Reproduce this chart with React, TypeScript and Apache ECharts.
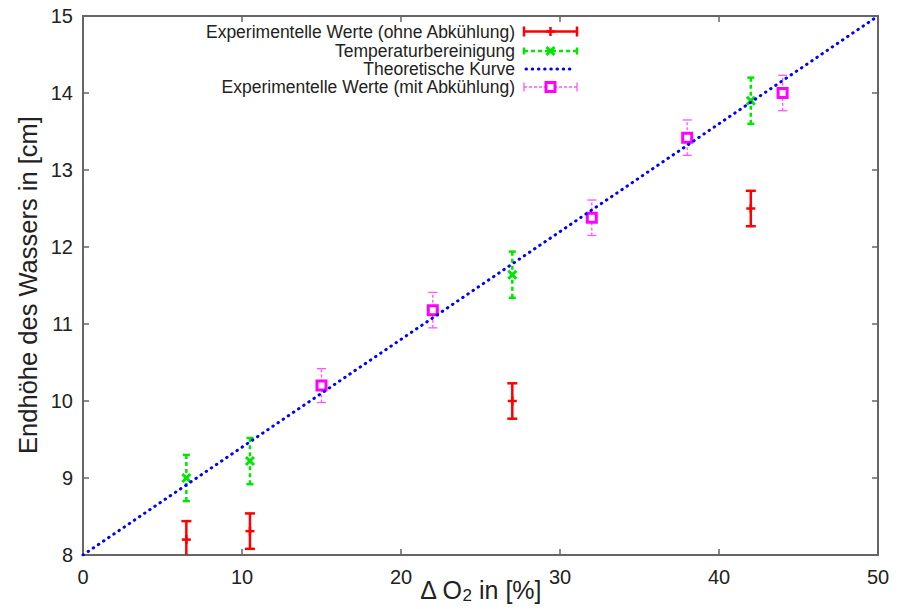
import React, { useEffect, useRef } from "react";
import * as echarts from "echarts";

// ---- data ----
const xTickValues = [0, 10, 20, 30, 40, 50];
const yTickValues = [8, 9, 10, 11, 12, 13, 14, 15];

const ohneX = [6.5, 10.5, 27, 42];
const ohneY = [8.2, 8.31, 10.0, 12.5];
const ohneErr = [0.24, 0.23, 0.23, 0.23];

const tempX = [6.5, 10.5, 27, 42];
const tempY = [9.0, 9.22, 11.64, 13.9];
const tempErr = [0.3, 0.3, 0.3, 0.3];

const mitX = [15, 22, 32, 38, 44];
const mitY = [10.2, 11.18, 12.38, 13.42, 14.0];
const mitErr = [0.22, 0.23, 0.23, 0.23, 0.23];

const theoryX = [0, 50];
const theoryY = [8, 15];

const legendNames = [
  "Experimentelle Werte (ohne Abkühlung)",
  "Temperaturbereinigung",
  "Theoretische Kurve",
  "Experimentelle Werte (mit Abkühlung)",
];

const yAxisTitle = "Endhöhe des Wassers in [cm]";

const FONT = "'Liberation Sans', Arial, Helvetica, sans-serif";
const TEXT = "#222";
const FRAME = "#666";

type Kind = "ohne" | "temp" | "mit";

const STY: Record<Kind, any> = {
  ohne: { color: "#ff0000", width: 2.5, dash: null, cap: 10 },
  temp: { color: "#00e600", width: 2.5, dash: [4, 3], cap: 7 },
  mit: { color: "#ff55ff", width: 1.3, dash: [3, 2], cap: 9 },
};

function markerEls(kind: Kind, cx: number, cy: number) {
  const s = STY[kind];
  if (kind === "ohne") {
    return [
      { type: "line", shape: { x1: cx - 4.5, y1: cy, x2: cx + 4.5, y2: cy }, style: { stroke: s.color, lineWidth: 2.5 } },
      { type: "line", shape: { x1: cx, y1: cy - 4.5, x2: cx, y2: cy + 4.5 }, style: { stroke: s.color, lineWidth: 2.5 } },
    ];
  }
  if (kind === "temp") {
    return [
      { type: "line", shape: { x1: cx - 4, y1: cy - 4, x2: cx + 4, y2: cy + 4 }, style: { stroke: s.color, lineWidth: 3 } },
      { type: "line", shape: { x1: cx - 4, y1: cy + 4, x2: cx + 4, y2: cy - 4 }, style: { stroke: s.color, lineWidth: 3 } },
    ];
  }
  return [
    { type: "rect", shape: { x: cx - 4.5, y: cy - 4.5, width: 9, height: 9 }, style: { stroke: "#ff00ff", lineWidth: 3, fill: "#ffffff" } },
  ];
}

function renderErr(kind: Kind) {
  return (params: any, api: any) => {
    const x = api.value(0);
    const y = api.value(1);
    const e = api.value(2);
    const c = api.coord([x, y]);
    const lo = api.coord([x, y - e]);
    const hi = api.coord([x, y + e]);
    const s = STY[kind];
    const st = { stroke: s.color, lineWidth: s.width, lineDash: s.dash };
    const hc = s.cap / 2;
    return {
      type: "group",
      children: [
        { type: "line", shape: { x1: c[0], y1: lo[1], x2: c[0], y2: hi[1] }, style: st },
        { type: "line", shape: { x1: c[0] - hc, y1: lo[1], x2: c[0] + hc, y2: lo[1] }, style: { stroke: s.color, lineWidth: s.width } },
        { type: "line", shape: { x1: c[0] - hc, y1: hi[1], x2: c[0] + hc, y2: hi[1] }, style: { stroke: s.color, lineWidth: s.width } },
        ...markerEls(kind, c[0], c[1]),
      ],
    };
  };
}

function legendSample(kind: Kind | "theory", y: number) {
  const x1 = 524;
  const x2 = 577;
  const cx = (x1 + x2) / 2;
  if (kind === "theory") {
    return [
      {
        type: "line",
        shape: { x1: x1 + 2, y1: y, x2: x2 - 4, y2: y },
        style: { stroke: "#0000ff", lineWidth: 3, lineDash: [0.5, 5.7], lineCap: "round" },
      },
    ];
  }
  const s = STY[kind];
  const hc = s.cap / 2;
  return [
    { type: "line", shape: { x1, y1: y, x2, y2: y }, style: { stroke: s.color, lineWidth: s.width, lineDash: s.dash } },
    { type: "line", shape: { x1, y1: y - hc, x2: x1, y2: y + hc }, style: { stroke: s.color, lineWidth: s.width } },
    { type: "line", shape: { x1: x2, y1: y - hc, x2, y2: y + hc }, style: { stroke: s.color, lineWidth: s.width } },
    ...markerEls(kind, cx, y),
  ];
}

export default function App() {
  const ref = useRef<HTMLDivElement>(null);

  useEffect(() => {
    if (!ref.current) return;
    const chart = echarts.init(ref.current, null, { renderer: "svg" });

    const legendRows = [31.5, 51, 69, 87];
    const legendKinds: (Kind | "theory")[] = ["ohne", "temp", "theory", "mit"];
    const graphic: any[] = [];
    legendNames.forEach((name, i) => {
      graphic.push({
        type: "text",
        x: 515,
        y: legendRows[i],
        style: {
          text: name,
          fontSize: 17.5,
          lineHeight: 16,
          fontFamily: FONT,
          fill: TEXT,
          align: "right",
          verticalAlign: "middle",
        },
      });
      legendSample(legendKinds[i], legendRows[i]).forEach((el) => graphic.push(el));
    });
    graphic.push({
      type: "text",
      x: 28,
      y: 285,
      rotation: Math.PI / 2,
      style: {
        text: yAxisTitle,
        fontSize: 25.5,
        fontFamily: FONT,
        fill: TEXT,
        align: "center",
        verticalAlign: "middle",
      },
    });

    const baseX = {
      type: "value",
      min: 0,
      max: 50,
      interval: 10,
      splitLine: { show: false },
      axisLine: { show: true, onZero: false, lineStyle: { color: FRAME, width: 2 } },
      axisTick: { show: true, inside: true, length: 6, lineStyle: { color: FRAME, width: 1.5 } },
    };
    const baseY = {
      type: "value",
      min: 8,
      max: 15,
      interval: 1,
      splitLine: { show: false },
      axisLine: { show: true, onZero: false, lineStyle: { color: FRAME, width: 2 } },
      axisTick: { show: true, inside: true, length: 6, lineStyle: { color: FRAME, width: 1.5 } },
    };

    chart.setOption({
      animation: false,
      backgroundColor: "#fff",
      grid: { left: 83, right: 29, top: 16, bottom: 54, containLabel: false, outerBoundsMode: "none" },
      xAxis: [
        {
          ...baseX,
          position: "bottom",
          name: "{a|Δ O}{s|2}{a| in [%]}",
          nameLocation: "middle",
          nameMoveOverlap: false,
          nameGap: 22,
          nameTextStyle: {
            fontSize: 25,
            fontFamily: FONT,
            color: TEXT,
            rich: {
              a: { fontSize: 25, lineHeight: 26, fontFamily: FONT, color: TEXT },
              s: { fontSize: 17, lineHeight: 26, fontFamily: FONT, color: TEXT, padding: [10, 0, 0, 0] },
            },
          },
          axisLabel: {
            fontSize: 20,
            fontFamily: FONT,
            color: TEXT,
            margin: 12,
            formatter: (v: number) => (xTickValues.includes(v) ? String(v) : ""),
          },
        },
        { ...baseX, position: "top", axisLabel: { show: false } },
      ],
      yAxis: [
        {
          ...baseY,
          position: "left",
          axisLabel: {
            fontSize: 20,
            fontFamily: FONT,
            color: TEXT,
            margin: 10,
            formatter: (v: number) => (yTickValues.includes(v) ? String(v) : ""),
          },
        },
        { ...baseY, position: "right", axisLabel: { show: false } },
      ],
      series: [
        {
          name: legendNames[0],
          type: "custom",
          clip: true,
          renderItem: renderErr("ohne"),
          data: ohneX.map((x, i) => [x, ohneY[i], ohneErr[i]]),
          encode: { x: 0, y: 1 },
        },
        {
          name: legendNames[1],
          type: "custom",
          clip: true,
          renderItem: renderErr("temp"),
          data: tempX.map((x, i) => [x, tempY[i], tempErr[i]]),
          encode: { x: 0, y: 1 },
        },
        {
          name: legendNames[2],
          type: "line",
          symbol: "none",
          silent: true,
          data: theoryX.map((x, i) => [x, theoryY[i]]),
          lineStyle: { color: "#0000ff", width: 3, type: [0.5, 5.7], cap: "round" },
        },
        {
          name: legendNames[3],
          type: "custom",
          clip: true,
          renderItem: renderErr("mit"),
          data: mitX.map((x, i) => [x, mitY[i], mitErr[i]]),
          encode: { x: 0, y: 1 },
        },
      ],
      graphic,
    });

    return () => chart.dispose();
  }, []);

  return (
    <div
      ref={ref}
      style={{ position: "fixed", left: 0, top: 0, width: 907, height: 609, background: "#fff" }}
    />
  );
}
